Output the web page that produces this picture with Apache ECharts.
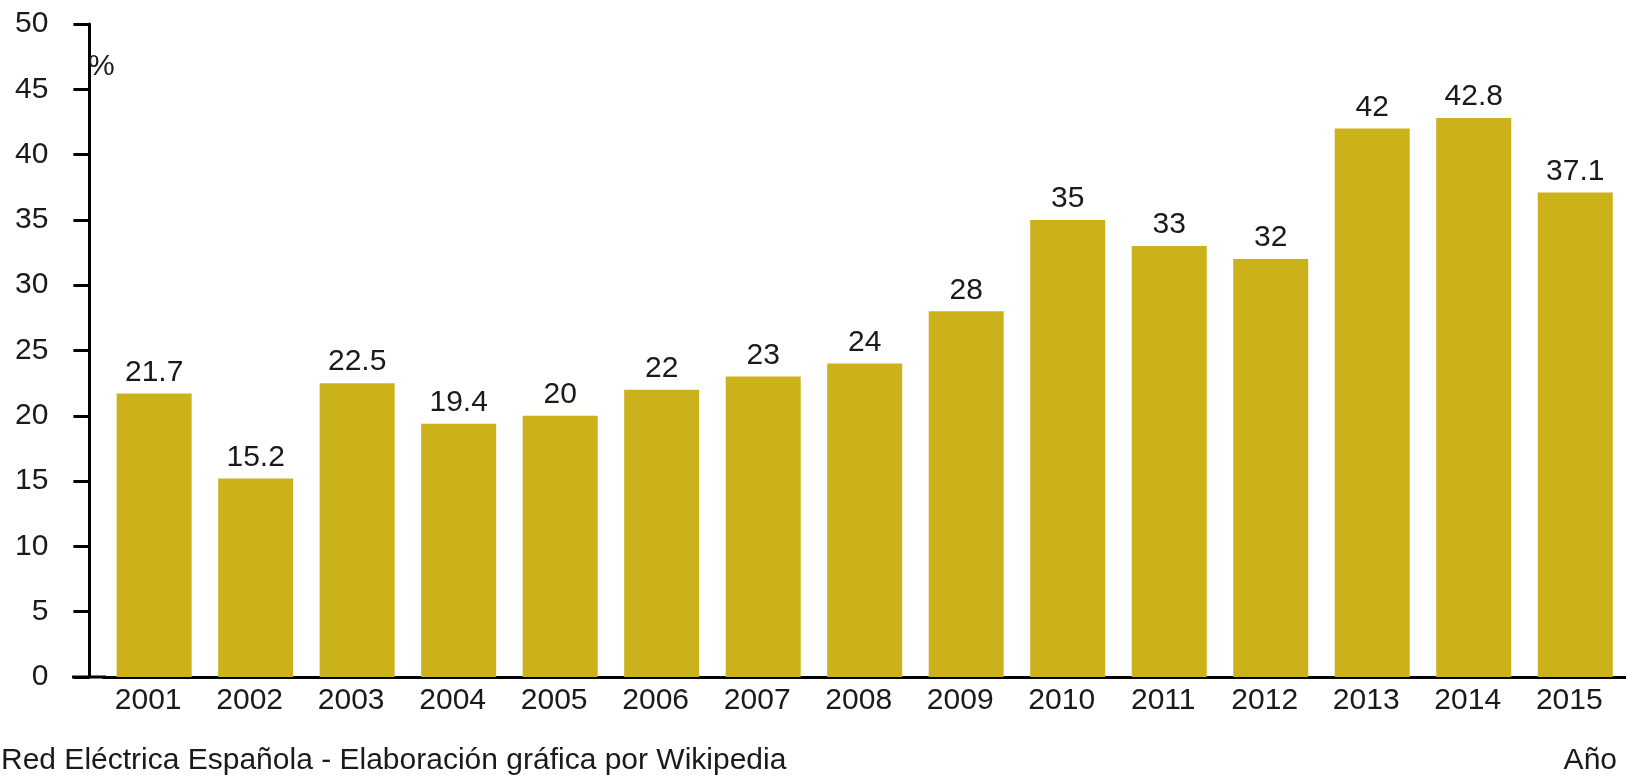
<!DOCTYPE html>
<html>
<head>
<meta charset="utf-8">
<title>Porcentaje</title>
<script src="https://cdn.jsdelivr.net/npm/echarts@6/dist/echarts.min.js"></script>
<style>
  html, body { margin: 0; padding: 0; background: #fff; }
  #chart { width: 1626px; height: 775px; }
</style>
</head>
<body>
<div id="chart"></div>
<script>
// datos
const years = ['2001', '2002', '2003', '2004', '2005', '2006', '2007', '2008',
  '2009', '2010', '2011', '2012', '2013', '2014', '2015'];
const percent = [21.7, 15.2, 22.5, 19.4, 20, 22, 23, 24, 28, 35, 33, 32, 42, 42.8, 37.1];
const unitLabel = '%';
const sourceLabel = 'Red Eléctrica Española - Elaboración gráfica por Wikipedia';
const axisName = 'Año';

const font = 'Liberation Sans, Arial, sans-serif';
const txt = { fontFamily: font, fontSize: 30, fontWeight: 'normal', color: '#1a1a1a' };

const chart = echarts.init(document.getElementById('chart'));

const option = {
  animation: false,
  backgroundColor: '#fff',
  title: [
    { text: unitLabel, left: 88, top: 52, padding: 0, textStyle: txt },
    { text: sourceLabel, left: 1, top: 746, padding: 0, textStyle: txt },
    { text: axisName, right: 9, top: 746, padding: 0, textStyle: txt }
  ],
  grid: { left: 103.4, top: 24, width: 1533, height: 653, containLabel: false },
  xAxis: {
    type: 'category',
    data: years,
    axisLine: { lineStyle: { color: '#000', width: 3 } },
    axisTick: { show: false },
    axisLabel: Object.assign({ margin: 9, padding: [0, 12, 0, 0] }, txt)
  },
  yAxis: {
    type: 'value',
    min: 0,
    max: 50,
    interval: 5,
    offset: 14,
    splitLine: { show: false },
    axisLine: { show: true, lineStyle: { color: '#000', width: 3 } },
    axisTick: { show: true, length: 16, lineStyle: { color: '#000', width: 3 } },
    axisLabel: Object.assign({ margin: 41 }, txt)
  },
  graphic: [
    {
      type: 'line',
      shape: { x1: 72, y1: 677, x2: 106, y2: 677 },
      style: { stroke: '#000', lineWidth: 3 }
    }
  ],
  series: [
    {
      type: 'bar',
      data: percent,
      barWidth: 75,
      itemStyle: { color: '#cbb21a' },
      label: Object.assign({ show: true, position: 'top', distance: 6 }, txt)
    }
  ]
};

chart.setOption(option);
</script>
</body>
</html>
